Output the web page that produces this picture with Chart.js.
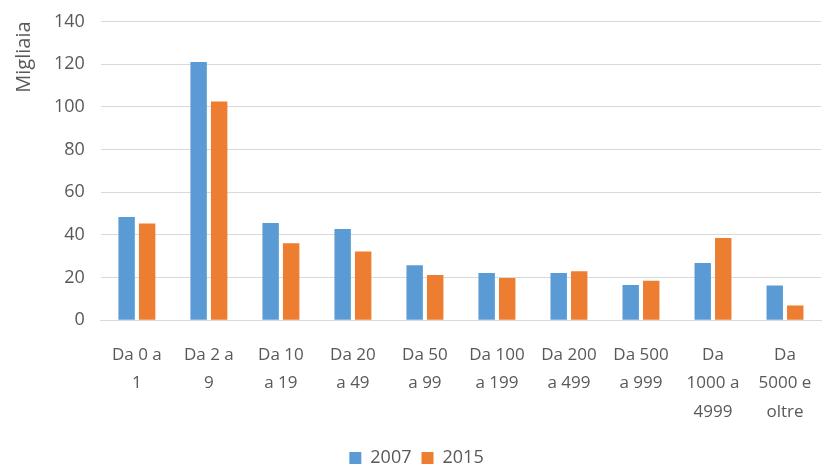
<!DOCTYPE html>
<html lang="it">
  <head>
    <meta charset="utf-8" />
    <title>Migliaia per classe</title>
    <style>
      * {
        margin: 0;
        padding: 0;
      }
      body {
        background: white;
      }
      .chartBox {
        width: 831px;
        height: 465px;
      }
    </style>
  </head>
  <body>
    <div class="chartBox">
      <canvas id="myChart"></canvas>
    </div>

    <script src="https://cdn.jsdelivr.net/npm/chart.js"></script>
    <script>
      // data block
      const categories = [
        ["Da 0 a", "1"],
        ["Da 2 a", "9"],
        ["Da 10", "a 19"],
        ["Da 20", "a 49"],
        ["Da 50", "a 99"],
        ["Da 100", "a 199"],
        ["Da 200", "a 499"],
        ["Da 500", "a 999"],
        ["Da", "1000 a", "4999"],
        ["Da", "5000 e", "oltre"],
      ];
      const values2007 = [48.4, 121, 45.6, 42.8, 25.8, 22.1, 22.1, 16.5, 26.8, 16.3];
      const values2015 = [45.3, 102.5, 36.1, 32.2, 21.2, 19.8, 23.0, 18.5, 38.6, 6.9];
      const yTicks = [0, 20, 40, 60, 80, 100, 120, 140];

      const fontFamily = "'Open Sans', sans-serif";
      const textColor = "#595959";
      const gridColor = "#d9d9d9";

      const config = {
        type: "bar",
        data: {
          labels: categories,
          datasets: [
            {
              label: "2007",
              data: values2007,
              backgroundColor: "#5b9bd5",
              barPercentage: 0.8,
              categoryPercentage: 0.57,
            },
            {
              label: "2015",
              data: values2015,
              backgroundColor: "#ed7d31",
              barPercentage: 0.8,
              categoryPercentage: 0.57,
            },
          ],
        },
        options: {
          responsive: true,
          maintainAspectRatio: false,
          animation: false,
          layout: {
            padding: { left: 12, right: 10, top: 0, bottom: -12 },
          },
          plugins: {
            legend: {
              position: "bottom",
              labels: {
                boxWidth: 12,
                boxHeight: 12,
                color: textColor,
                font: { family: fontFamily, size: 18 },
                padding: 10,
              },
            },
            tooltip: { enabled: false },
          },
          scales: {
            x: {
              grid: { display: false },
              border: { color: gridColor },
              ticks: {
                color: textColor,
                font: { family: fontFamily, size: 17, lineHeight: 1.7 },
                maxRotation: 0,
                autoSkip: false,
                padding: 12,
              },
            },
            y: {
              min: 0,
              max: 140,
              afterBuildTicks: (axis) => {
                axis.ticks = yTicks.map((v) => ({ value: v }));
              },
              grid: { color: gridColor, drawTicks: false },
              border: { display: false },
              ticks: {
                color: textColor,
                font: { family: fontFamily, size: 18, lineHeight: 0.6 },
                padding: 16,
              },
              title: {
                display: true,
                text: "Migliaia",
                align: "end",
                color: textColor,
                font: { family: fontFamily, size: 20 },
                padding: { top: 0, bottom: 2 },
              },
            },
          },
        },
      };

      // init render block
      const myChart = new Chart(document.getElementById("myChart"), config);
    </script>
  </body>
</html>
